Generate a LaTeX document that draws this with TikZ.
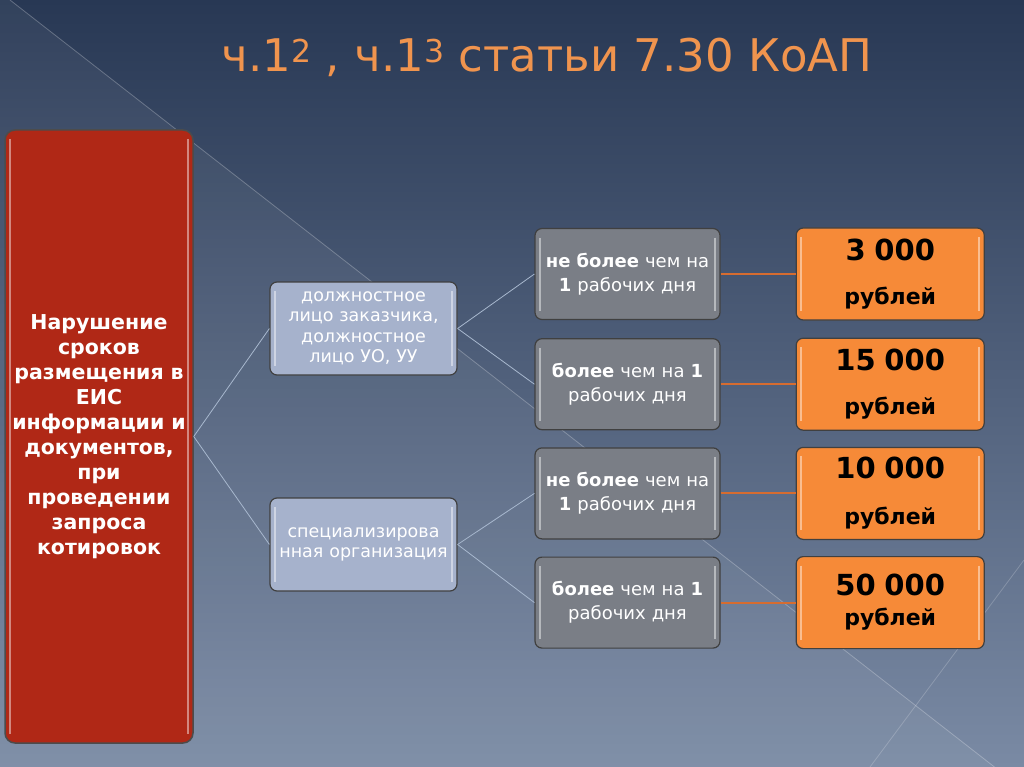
\documentclass[tikz,border=0pt]{standalone}
\usepackage{fontspec}
\setmainfont{DejaVu Sans}
\usepackage{xcolor}
\usetikzlibrary{positioning}
\definecolor{bgtop}{RGB}{40,56,84}
\definecolor{bgbottom}{RGB}{122,138,164}
\definecolor{titleorange}{RGB}{240,148,78}
\definecolor{violred}{RGB}{176,40,22}
\definecolor{personblue}{RGB}{166,178,204}
\definecolor{termgray}{RGB}{122,126,134}
\definecolor{fineorange}{RGB}{246,138,56}
\definecolor{linkblue}{RGB}{168,184,206}
\definecolor{linkorange}{RGB}{214,108,48}
\newcommand{\rub}{{\fontsize{22}{26}\selectfont\bfseries рублей}}

\begin{document}
\begin{tikzpicture}[x=1pt, y=-1pt,
    gloss/.style={path picture={
        \draw[white, opacity=0.45, line width=2pt]
            ([xshift=5pt,yshift=-9pt]path picture bounding box.north west) --
            ([xshift=5pt,yshift=9pt]path picture bounding box.south west);
        \draw[white, opacity=0.45, line width=2pt]
            ([xshift=-5pt,yshift=-9pt]path picture bounding box.north east) --
            ([xshift=-5pt,yshift=9pt]path picture bounding box.south east);}},
    redbox/.style={gloss, draw=black!70, line width=1.5pt, rounded corners=10pt, fill=violred,
                   minimum width=188pt, minimum height=613pt, text width=186pt, inner sep=1pt,
                   align=center, text=white, font=\fontsize{20.5}{25}\selectfont\bfseries},
    person/.style={gloss, draw=black!75, line width=1.2pt, rounded corners=7pt, fill=personblue,
                   minimum width=187pt, minimum height=93pt, text width=186pt, inner sep=0.5pt,
                   align=center, text=white, font=\fontsize{17.5}{20.5}\selectfont},
    term/.style={gloss, draw=black!75, line width=1.2pt, rounded corners=7pt, fill=termgray,
                 minimum width=185pt, minimum height=91pt, text width=182pt, inner sep=1pt,
                 align=center, text=white, font=\fontsize{18}{24}\selectfont},
    fine/.style={gloss, draw=black!75, line width=1.2pt, rounded corners=7pt, fill=fineorange,
                 minimum width=188pt, minimum height=92pt, text width=180pt, inner sep=2pt,
                 align=center, text=black, font=\fontsize{29}{32}\selectfont\bfseries},
    link/.style={draw=linkblue, line width=0.8pt},
    money/.style={draw=linkorange, line width=2pt}
]
    \useasboundingbox (0,0) rectangle (1024,767);
    \shade[top color=bgtop, bottom color=bgbottom] (0,0) rectangle (1024,767);
    \fill[white, opacity=0.05] (10,0) -- (1024,790) -- (0,790) -- (0,0) -- cycle;
    \draw[white, opacity=0.25, line width=0.8pt] (10,0) -- (1024,790);
    \draw[white, opacity=0.2, line width=0.8pt] (1024,560) -- (870,767);

    \node[text=titleorange, font=\fontsize{45}{50}\selectfont] (title) at (547,57)
        {ч.1\textsuperscript{2} , ч.1\textsuperscript{3} статьи 7.30 КоАП};

    \node[redbox] (violation) at (99,436.5) {Нарушение\\сроков\\размещения в\\ЕИС\\информации и\\документов,\\при\\проведении\\запроса\\котировок};

    \node[person] (official) at (363.5,328.5) {должностное\\лицо заказчика,\\должностное\\лицо УО, УУ};
    \node[person] (specorg) at (363.5,544.5) {специализирова\\нная организация};

    \node[term] (notmore1) at (627.5,274) {\textbf{не более} чем на\\\textbf{1} рабочих дня};
    \node[term, below=18pt of notmore1] (more1) {\textbf{более} чем на \textbf{1}\\рабочих дня};
    \node[term, below=17pt of more1] (notmore2) {\textbf{не более} чем на\\\textbf{1} рабочих дня};
    \node[term, below=17pt of notmore2] (more2) {\textbf{более} чем на \textbf{1}\\рабочих дня};

    \node[fine, right=75pt of notmore1] (fine3k) {3\hspace{0.3em}000\\[12pt]\rub};
    \node[fine, right=75pt of more1] (fine15k) {15\hspace{0.3em}000\\[12pt]\rub};
    \node[fine, right=75pt of notmore2] (fine10k) {10\hspace{0.3em}000\\[14pt]\rub};
    \node[fine, right=75pt of more2] (fine50k) {50\hspace{0.3em}000\\[-2pt]\rub};

    \draw[link] (violation.east) -- (official.west);
    \draw[link] (violation.east) -- (specorg.west);
    \draw[link] (official.east) -- (notmore1.west);
    \draw[link] (official.east) -- (more1.west);
    \draw[link] (specorg.east) -- (notmore2.west);
    \draw[link] (specorg.east) -- (more2.west);

    \draw[money] (notmore1) -- (fine3k);
    \draw[money] (more1) -- (fine15k);
    \draw[money] (notmore2) -- (fine10k);
    \draw[money] (more2) -- (fine50k);
\end{tikzpicture}
\end{document}
